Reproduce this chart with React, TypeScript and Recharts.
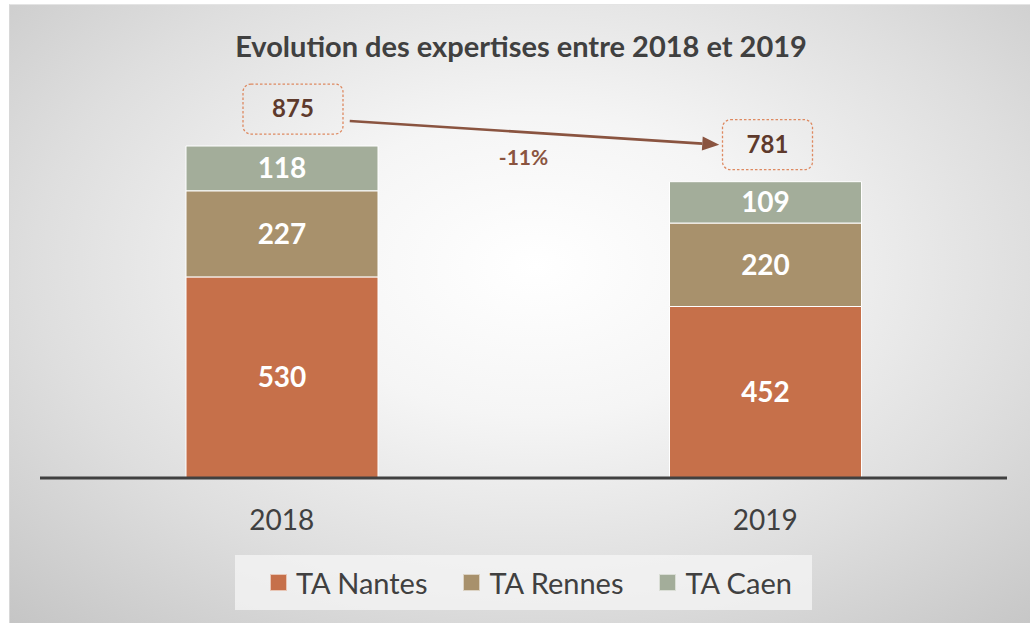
import { BarChart, Bar, XAxis, YAxis, LabelList, ReferenceLine, Label } from 'recharts';

const YEARS = ['2018', '2019'];
const NANTES = [530, 452];
const RENNES = [227, 220];
const CAEN = [118, 109];

const SERIES = [
  { key: 'nantes', name: 'TA Nantes', color: '#C6704A' },
  { key: 'rennes', name: 'TA Rennes', color: '#A8916C' },
  { key: 'caen', name: 'TA Caen', color: '#A3AD9A' },
];

const data = YEARS.map((year, i) => ({
  year,
  nantes: NANTES[i],
  rennes: RENNES[i],
  caen: CAEN[i],
  total: NANTES[i] + RENNES[i] + CAEN[i],
}));

const first = data[0].total;
const last = data[data.length - 1].total;
const CHANGE = `${Math.round(((last - first) / first) * 100)}%`;

const FONT = 'Lato, "Noto Sans", sans-serif';
const TXT = '#404040';
const BROWN = '#8A5440';

// dashed boxes above each stack
const BOX_W = [100, 90];
const BOX_DX = [11, 2];
const TotalLabel = (p: any) => {
  const cx = p.x + p.width / 2 + BOX_DX[p.index];
  const cy = p.y - 37;
  const w = BOX_W[p.index];
  return (
    <g>
      <rect x={cx - w / 2} y={cy - 25} width={w} height={50} rx={8} fill="none" stroke="#DE8960" strokeWidth={1.3} strokeDasharray="2.5 2" />
      <text x={cx} y={cy} dy={8} textAnchor="middle" fontSize={24} fontWeight={700} fill="#5E3A2C" fontFamily={FONT}>{p.value}</text>
    </g>
  );
};

const Arrow = (p: any) => {
  const x1 = p.x1 + 68, y1 = p.y1 - 25;
  const x2 = p.x2 - 46, y2 = p.y2 - 37;
  const a = Math.atan2(y2 - y1, x2 - x1);
  const L = 17, W = 7;
  const bx = x2 - L * Math.cos(a), by = y2 - L * Math.sin(a);
  const pts = `${x2},${y2} ${bx + W * Math.sin(a)},${by - W * Math.cos(a)} ${bx - W * Math.sin(a)},${by + W * Math.cos(a)}`;
  return (
    <g>
      <line x1={x1} y1={y1} x2={bx} y2={by} stroke={BROWN} strokeWidth={2.6} />
      <polygon points={pts} fill={BROWN} />
    </g>
  );
};

const YearTick = (p: any) => (
  <text x={p.x} y={p.y + 44} textAnchor="middle" fontSize={28} fill={TXT} fontFamily={FONT}>{p.payload.value}</text>
);

export default function App() {
  return (
    <div style={{ position: 'absolute', left: 0, top: 0, width: 1030, height: 623, background: '#fff', overflow: 'hidden' }}>
      <div style={{ position: 'absolute', left: 9, top: 4, width: 1030, height: 623, borderTop: '1px solid #e4e4e4', borderLeft: '1px solid #d8d8d8',
        background: 'radial-gradient(ellipse 75% 80% at 51% 42%, #ffffff 0%, #f5f5f5 30%, #dedede 65%, #c4c4c4 100%)' }} />
      <div style={{ position: 'absolute', left: 0, top: 28, width: 1042, textAlign: 'center', fontSize: 29, lineHeight: '36px', fontWeight: 700, color: TXT, fontFamily: FONT }}>
        Evolution des expertises entre 2018 et 2019
      </div>
      <div style={{ position: 'absolute', left: 0, top: 0 }}>
        <BarChart width={1030} height={623} data={data} margin={{ top: 98.6, right: 23, bottom: 105, left: 40 }} barSize={192}>
          <YAxis hide domain={[0, 1000]} />
          <XAxis dataKey="year" height={40} axisLine={{ stroke: '#404040', strokeWidth: 3 }} tickLine={false} tick={<YearTick />} />
          {SERIES.map((s, i) => (
            <Bar key={s.key} dataKey={s.key} name={s.name} stackId="a" fill={s.color} stroke="#fff" strokeWidth={1} isAnimationActive={false}>
              <LabelList dataKey={s.key} position="center" fill="#fff" fontSize={28} fontWeight={700} fontFamily={FONT} />
              {i === SERIES.length - 1 && <LabelList dataKey="total" content={<TotalLabel />} />}
            </Bar>
          ))}
          <ReferenceLine segment={[{ x: YEARS[0], y: first }, { x: YEARS[1], y: last }]} shape={Arrow} ifOverflow="visible">
            <Label value={CHANGE} position="center" dy={-6} fill={BROWN} fontSize={21} fontWeight={700} fontFamily={FONT} />
          </ReferenceLine>
        </BarChart>
      </div>
      <div style={{ position: 'absolute', left: 235, top: 555, width: 577, height: 55, background: 'rgba(246,246,246,0.75)', display: 'flex', alignItems: 'center', paddingLeft: 35, boxSizing: 'border-box', gap: 36 }}>
        {SERIES.map(s => (
          <div key={s.key} style={{ display: 'flex', alignItems: 'center', gap: 9 }}>
            <span style={{ width: 15, height: 15, background: s.color, border: '1px solid rgba(255,255,255,0.6)' }} />
            <span style={{ fontSize: 29, color: TXT, fontFamily: FONT, lineHeight: '34px' }}>{s.name}</span>
          </div>
        ))}
      </div>
    </div>
  );
}
